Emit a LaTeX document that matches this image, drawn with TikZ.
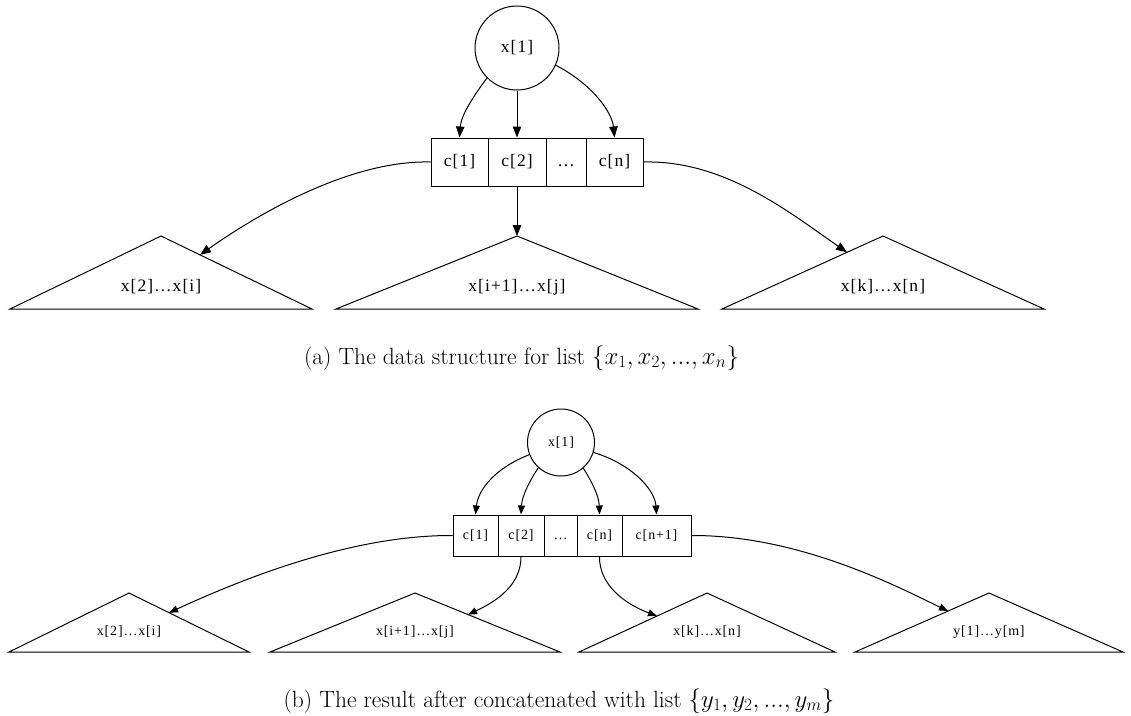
\documentclass[tikz,border=0pt]{standalone}
\usepackage{fontspec}
\newfontfamily\gvfont[LetterSpace=6]{Liberation Serif}
\usetikzlibrary{arrows.meta}
\begin{document}
\begin{tikzpicture}[x=1pt,y=-1pt,
  every path/.style={line width=1pt},
  bigtxt/.style={font=\gvfont\fontsize{17.5}{20}\selectfont},
  smalltxt/.style={font=\gvfont\fontsize{14}{16}\selectfont},
  bigcirc/.style={circle,draw,minimum size=84pt,inner sep=0pt,bigtxt},
  smallcirc/.style={circle,draw,minimum size=67pt,inner sep=0pt,smalltxt},
  bigcell/.style={draw,minimum height=48pt,inner sep=0pt,bigtxt},
  smallcell/.style={draw,minimum height=41pt,inner sep=0pt,smalltxt},
  tri/.style={draw,line join=miter},
  bigarr/.style={-{Triangle[length=11pt,width=8.5pt]}},
  smallarr/.style={-{Triangle[length=9pt,width=7pt]}},
  caption/.style={font=\fontsize{23.5}{28}\selectfont,inner sep=0pt}
]
\useasboundingbox (0,0) rectangle (1131,715);

% ---------------- (a) ----------------
\node[bigcirc] (ax) at (517,48) {x[1]};
\node[bigcell,minimum width=57pt] (ac1) at (459.5,162) {c[1]};
\node[bigcell,minimum width=58pt] (ac2) at (517,162) {c[2]};
\node[bigcell,minimum width=40pt] (ac3) at (566,162) {\vphantom{c[1]}…};
\node[bigcell,minimum width=57pt] (ac4) at (614.5,162) {c[n]};

\draw[tri] (161,236) -- (312,309) -- (10,309) -- cycle;
\node[bigtxt] (at1) at (161,287) {x[2]…x[i]};
\draw[tri] (517,236) -- (698,309) -- (336,309) -- cycle;
\node[bigtxt] (at2) at (517,287) {x[i+1]…x[j]};
\draw[tri] (883,236) -- (1044,309) -- (722,309) -- cycle;
\node[bigtxt] (at3) at (883,287) {x[k]…x[n]};
\coordinate (at1p) at (200,254.9);
\coordinate (at2p) at (517,236);
\coordinate (at3p) at (847,252.3);

\draw[bigarr] (ax.225) .. controls (472,98) and (461,116) .. (ac1.north);
\draw[bigarr] (ax.south) -- (ac2.north);
\draw[bigarr] (ax.336) .. controls (592,84) and (612,112) .. (ac4.north);
\draw[bigarr] (ac1.west) .. controls (350,160) and (258,214) .. (at1p);
\draw[bigarr] (ac2.south) -- (at2p);
\draw[bigarr] (ac4.east) .. controls (725,160) and (790,213) .. (at3p);

\node[caption] (capa) at (521.5,358) {(a) The data structure for list $\{x_1, x_2, ..., x_n\}$};

% ---------------- (b) ----------------
\node[smallcirc] (bx) at (561,442.5) {x[1]};
\node[smallcell,minimum width=45pt] (bc1) at (475.5,535.5) {c[1]};
\node[smallcell,minimum width=46pt] (bc2) at (521,535.5) {c[2]};
\node[smallcell,minimum width=33pt] (bc3) at (560.5,535.5) {\vphantom{c[1]}…};
\node[smallcell,minimum width=45pt] (bc4) at (599.5,535.5) {c[n]};
\node[smallcell,minimum width=69pt] (bc5) at (656.5,535.5) {c[n+1]};

\draw[tri] (129,593) -- (249,652) -- (9,652) -- cycle;
\node[smalltxt] (bt1) at (129,632) {x[2]…x[i]};
\draw[tri] (415,593) -- (560,652) -- (270,652) -- cycle;
\node[smalltxt] (bt2) at (415,632) {x[i+1]…x[j]};
\draw[tri] (707,593) -- (835,652) -- (579,652) -- cycle;
\node[smalltxt] (bt3) at (707,632) {x[k]…x[n]};
\draw[tri] (989,593) -- (1123,652) -- (855,652) -- cycle;
\node[smalltxt] (bt4) at (989,632) {y[1]…y[m]};
\coordinate (bt1p) at (169,612.7);
\coordinate (bt2p) at (468,614.6);
\coordinate (bt3p) at (657,616);
\coordinate (bt4p) at (948,611);

\draw[smallarr] (bx.201) .. controls (495,468) and (478,490) .. (bc1.north);
\draw[smallarr] (bx.228) .. controls (529,482) and (522,496) .. (bc2.north);
\draw[smallarr] (bx.311) .. controls (592,482) and (599,496) .. (bc4.north);
\draw[smallarr] (bx.343) .. controls (632,464) and (655,490) .. (bc5.north);
\draw[smallarr] (bc1.west) .. controls (350,535) and (240,580) .. (bt1p);
\draw[smallarr] (bc2.south) .. controls (521,585) and (497,601) .. (bt2p);
\draw[smallarr] (bc4.south) .. controls (599,585) and (625,604) .. (bt3p);
\draw[smallarr] (bc5.east) .. controls (800,535) and (900,588) .. (bt4p);

\node[caption] (capb) at (559,701) {(b) The result after concatenated with list $\{y_1, y_2, ..., y_m\}$};
\end{tikzpicture}
\end{document}
